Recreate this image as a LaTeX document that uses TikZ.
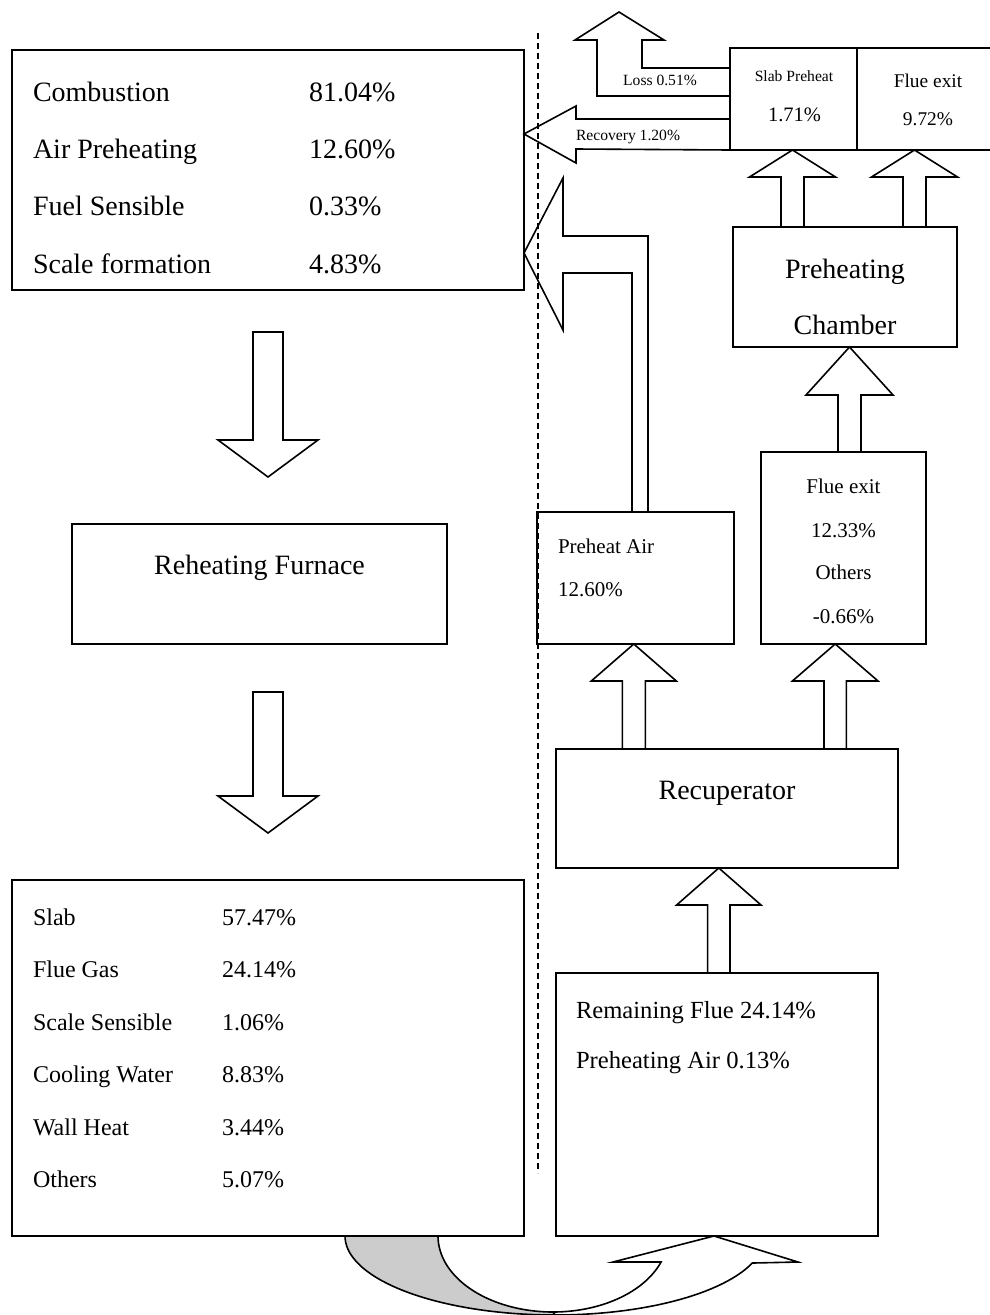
\documentclass[tikz,border=0pt]{standalone}
\usepackage{fontspec}
\setmainfont{Liberation Serif}
\usetikzlibrary{calc}

% up-pointing block arrow: #1 axis x, #2 node pointed at, #3 node it leaves,
% #4 head length, #5 half head width, #6 half shaft width
\newcommand\upblock[6]{%
  \coordinate (ub-tip) at (#1,0 |- #2.south);
  \coordinate (ub-foot) at (#1,0 |- #3.north);
  \draw[blk] (ub-tip) -- ++(#5,#4) -- ++({#6-#5},0) coordinate (ub-r)
     -- (ub-r |- ub-foot) -- ++({-2*#6},0) coordinate (ub-l)
     -- (ub-l |- ub-r) -- ++({#6-#5},0) -- cycle;}

\begin{document}
\begin{tikzpicture}[x=1pt,y=-1pt,
  box/.style={draw, line width=1.8pt, rectangle, outer sep=0pt, inner sep=0pt, anchor=north west},
  blk/.style={draw, line width=1.6pt, line join=miter},
  txt/.style={inner sep=0pt, outer sep=0pt},
  tA/.style={txt, font=\fontsize{28pt}{32pt}\selectfont},
  tB/.style={txt, font=\fontsize{24pt}{28pt}\selectfont},
  tC/.style={txt, font=\fontsize{21pt}{24pt}\selectfont},
  tD/.style={txt, font=\fontsize{19.4pt}{22pt}\selectfont},
  tE/.style={txt, font=\fontsize{15.6pt}{18pt}\selectfont},
  divider/.style={line width=1.5pt, dash pattern=on 6pt off 4pt},
]
\useasboundingbox (0,0) rectangle (990,1315);
\fill[white] (0,0) rectangle (990,1315);

% ---------- left column ----------
\node[box, minimum width=512pt, minimum height=240pt] (input) at (12,50) {};
\node[tA, anchor=base west] (in1) at (33,101) {Combustion};
\node[tA, anchor=base west] (in1v) at (309,101) {81.04\%};
\node[tA, anchor=base west] (in2) at (33,158.3) {Air Preheating};
\node[tA, anchor=base west] (in2v) at (309,158.3) {12.60\%};
\node[tA, anchor=base west] (in3) at (33,215.6) {Fuel Sensible};
\node[tA, anchor=base west] (in3v) at (309,215.6) {0.33\%};
\node[tA, anchor=base west] (in4) at (33,273) {Scale formation};
\node[tA, anchor=base west] (in4v) at (309,273) {4.83\%};

\node[box, minimum width=375pt, minimum height=120pt] (furnace) at (72,524) {};
\node[tA, anchor=base] (furnace-t) at (259.5,574) {Reheating Furnace};

\node[box, minimum width=512pt, minimum height=356pt] (output) at (12,880) {};
\node[tB, anchor=base west] (o1) at (33,925) {Slab};
\node[tB, anchor=base west] (o1v) at (222,925) {57.47\%};
\node[tB, anchor=base west] (o2) at (33,977.5) {Flue Gas};
\node[tB, anchor=base west] (o2v) at (222,977.5) {24.14\%};
\node[tB, anchor=base west] (o3) at (33,1030) {Scale Sensible};
\node[tB, anchor=base west] (o3v) at (222,1030) {1.06\%};
\node[tB, anchor=base west] (o4) at (33,1082.5) {Cooling Water};
\node[tB, anchor=base west] (o4v) at (222,1082.5) {8.83\%};
\node[tB, anchor=base west] (o5) at (33,1135) {Wall Heat};
\node[tB, anchor=base west] (o5v) at (222,1135) {3.44\%};
\node[tB, anchor=base west] (o6) at (33,1187.5) {Others};
\node[tB, anchor=base west] (o6v) at (222,1187.5) {5.07\%};

% down arrows between the left boxes
\coordinate (d1-top) at (268,332);
\coordinate (d1-tip) at (268,477);
\draw[blk] (d1-tip) -- ++(50,-37) -- ++(-35,0) coordinate (d1-r) -- (d1-r |- d1-top)
  -- ++(-30,0) coordinate (d1-l) -- (d1-l |- d1-r) -- ++(-35,0) -- cycle;
\coordinate (d2-top) at (268,692);
\coordinate (d2-tip) at (268,833);
\draw[blk] (d2-tip) -- ++(50,-37) -- ++(-35,0) coordinate (d2-r) -- (d2-r |- d2-top)
  -- ++(-30,0) coordinate (d2-l) -- (d2-l |- d2-r) -- ++(-35,0) -- cycle;

% dashed divider
\coordinate (div-top) at (538,33);
\coordinate (div-bot) at (538,1173);
\draw[divider] (div-top) -- (div-bot);

% ---------- right column ----------
\node[box, minimum width=127pt, minimum height=102pt] (slabph) at (730,48) {};
\node[tE, anchor=base] (slabph-t) at (794,81) {Slab Preheat};
\node[txt, font=\fontsize{20.5pt}{24pt}\selectfont, anchor=base] (slabph-v) at (794.5,121) {1.71\%};

\node[box, minimum width=140pt, minimum height=102pt] (fluetop) at (857,48) {};
\node[tD, anchor=base] (fluetop-t) at (928,87) {Flue exit};
\node[tD, anchor=base] (fluetop-v) at (928,125) {9.72\%};

\node[box, minimum width=224pt, minimum height=120pt] (chamber) at (733,227) {};
\node[tA, anchor=base] (chamber-t1) at (845,278) {Preheating};
\node[tA, anchor=base] (chamber-t2) at (845,334) {Chamber};

\node[box, minimum width=165pt, minimum height=192pt] (fluemid) at (761,452) {};
\node[tC, anchor=base] (fm1) at (843.5,493) {Flue exit};
\node[tC, anchor=base] (fm2) at (843.5,537) {12.33\%};
\node[tC, anchor=base] (fm3) at (843.5,579) {Others};
\node[tC, anchor=base] (fm4) at (843.5,623) {-0.66\%};

\node[box, minimum width=197pt, minimum height=132pt] (pair) at (537,512) {};
\node[tC, anchor=base west] (pa1) at (558,553) {Preheat Air};
\node[tC, anchor=base west] (pa2) at (558,596) {12.60\%};

\node[box, minimum width=342pt, minimum height=119pt] (recup) at (556,749) {};
\node[tA, anchor=base] (recup-t) at (727,799) {Recuperator};

\node[box, minimum width=322pt, minimum height=263pt] (remain) at (556,973) {};
\node[txt, font=\fontsize{24.6pt}{28pt}\selectfont, anchor=base west] (rm1) at (576,1018) {Remaining Flue 24.14\%};
\node[txt, font=\fontsize{24.6pt}{28pt}\selectfont, anchor=base west] (rm2) at (576,1068) {Preheating Air 0.13\%};

% up arrows
\upblock{792.5}{slabph}{chamber}{27}{43}{11.5}
\upblock{914.5}{fluetop}{chamber}{27}{43}{11.5}
\upblock{849.5}{chamber}{fluemid}{48}{43.5}{11.5}
\upblock{633.8}{pair}{recup}{37}{42.5}{11.5}
\upblock{835.2}{fluemid}{recup}{37}{42.8}{11.2}
\upblock{718.8}{recup}{remain}{37}{42.2}{11.2}

% loss: leaves the slab preheat box and turns upward
\draw[blk] (slabph.north west |- 0,68) -- (642,68) -- (642,40) -- (664,40)
  -- (619,12) -- (575,40) -- (597,40) -- (597,96) -- (slabph.north west |- 0,96);
\node[tE, anchor=base] (loss-t) at (660,85) {Loss 0.51\%};

% recovery: returns from the slab preheat box to the input box
\draw[blk] (slabph.north west |- 0,119) -- (576,119) -- (576,106)
  -- (input.north east |- 0,134) -- (576,163) -- (576,149) -- (slabph.south west);
\node[tE, anchor=base] (rec-t) at (628,140) {Recovery 1.20\%};

% preheated air returns to the input box
\draw[blk] (632,0 |- pair.north) -- (632,273) -- (563,273) -- (563,330)
  -- (input.north east |- 0,253) -- (563,178) -- (563,236) -- (648,236) -- (648,0 |- pair.north);

% remaining flue gas carried from the output box to the recuperator
\draw[blk, fill=black!20]
  plot[domain=180:90, samples=40] ({555+210*cos(\x)},{1236+79*sin(\x)})
  -- plot[domain=90:180, samples=40] ({553+115*cos(\x)},{1236+76*sin(\x)}) -- cycle;
\draw[blk]
  plot[domain=90:20, samples=30] ({553+115*cos(\x)},{1236+76*sin(\x)})
  -- (613,1262) -- (714,0 |- remain.south) -- (798,1262)
  -- plot[domain=20:90, samples=30] ({555+210*cos(\x)},{1236+79*sin(\x)}) -- cycle;

\end{tikzpicture}
\end{document}
